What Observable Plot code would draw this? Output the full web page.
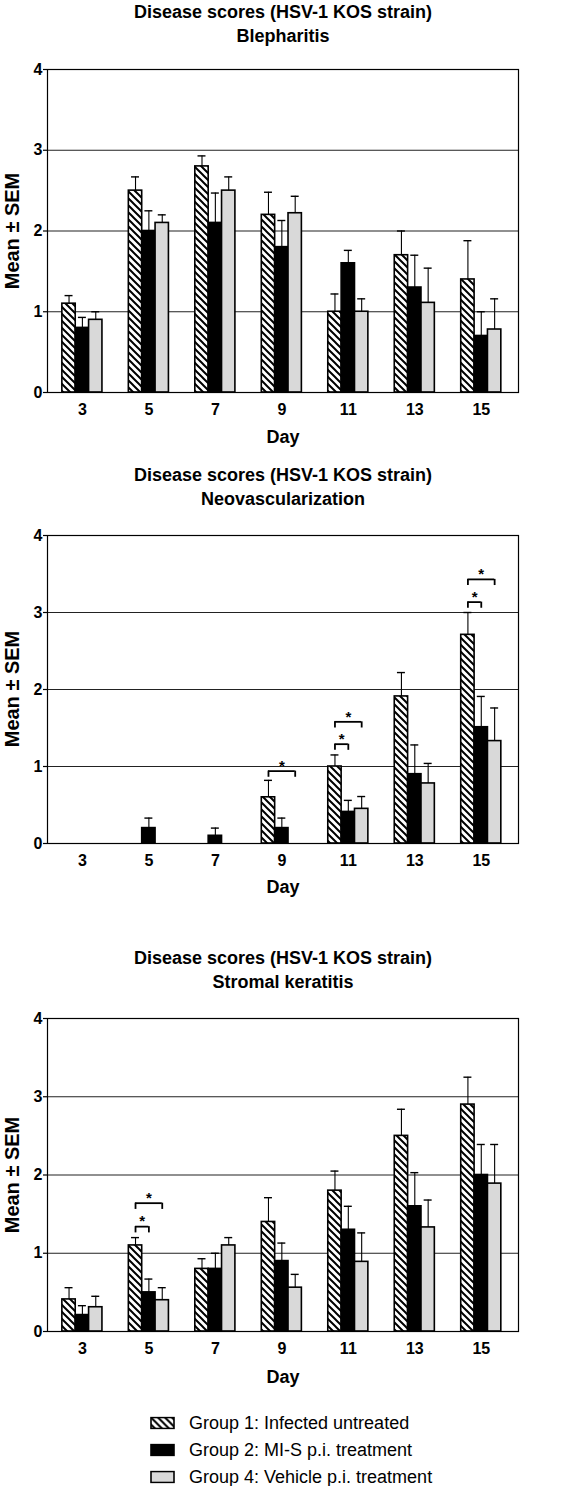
<!DOCTYPE html>
<html>
<head>
<meta charset="utf-8">
<script src="https://cdn.jsdelivr.net/npm/d3@7"></script>
<script src="https://cdn.jsdelivr.net/npm/@observablehq/plot@0.6"></script>
<style>
  html, body { margin: 0; padding: 0; background: #fff; }
  #root { position: relative; width: 566px; height: 1486px; font-family: "Liberation Sans", Arial, sans-serif; color: #000; }
  .title { position: absolute; left: 0; width: 566px; text-align: center; font-weight: bold; font-size: 18px; line-height: 24px; }
  .xlab { position: absolute; left: 283px; transform: translate(-50%, -50%); font-weight: bold; font-size: 18px; }
  .ylab { position: absolute; left: 12px; transform: translate(-50%, -50%) rotate(-90deg); font-weight: bold; font-size: 20px; white-space: nowrap; }
  .leg { position: absolute; left: 150px; height: 27px; display: flex; align-items: center; font-size: 18px; white-space: nowrap; transform: translateY(-50%); }
  .leg svg { margin-right: 14px; }
</style>
</head>
<body>
<svg width="0" height="0" style="position:absolute">
  <defs>
    <pattern id="hatch" patternUnits="userSpaceOnUse" width="7" height="7">
      <rect width="7" height="7" fill="#fff"></rect>
      <path d="M-1,-1 L8,8 M6,-1 L8,1 M-1,6 L1,8" stroke="#000" stroke-width="2"></path>
    </pattern>
  </defs>
</svg>
<div id="root"></div>
<script>
// ---- data ----
const days = [3, 5, 7, 9, 11, 13, 15];
const groups = ["Group 1: Infected untreated", "Group 2: MI-S p.i. treatment", "Group 4: Vehicle p.i. treatment"];
const groupFills = ["url(#hatch)", "#000000", "#d9d9d9"];
const titleLine1 = "Disease scores (HSV-1 KOS strain)";
const panelNames = ["Blepharitis", "Neovascularization", "Stromal keratitis"];
const yTicks = [0, 1, 2, 3, 4];

// Blepharitis
const blephG1 = [1.1, 2.5, 2.8, 2.2, 1.0, 1.7, 1.4];
const blephG1Sem = [0.1, 0.17, 0.13, 0.28, 0.22, 0.3, 0.48];
const blephG2 = [0.8, 2.0, 2.1, 1.8, 1.6, 1.3, 0.7];
const blephG2Sem = [0.13, 0.25, 0.37, 0.33, 0.16, 0.4, 0.3];
const blephG4 = [0.9, 2.1, 2.5, 2.22, 1.0, 1.11, 0.78];
const blephG4Sem = [0.1, 0.1, 0.17, 0.21, 0.16, 0.43, 0.38];

// Neovascularization
const neoG1 = [0, 0, 0, 0.6, 1.0, 1.91, 2.71];
const neoG1Sem = [0, 0, 0, 0.22, 0.15, 0.31, 0.29];
const neoG2 = [0, 0.2, 0.1, 0.2, 0.41, 0.9, 1.51];
const neoG2Sem = [0, 0.13, 0.1, 0.13, 0.15, 0.38, 0.4];
const neoG4 = [0, 0, 0, 0, 0.45, 0.78, 1.33];
const neoG4Sem = [0, 0, 0, 0, 0.16, 0.26, 0.43];
const neoBrackets = [
  {day: 9, from: 0, to: 2, level: 0.94},
  {day: 11, from: 0, to: 1, level: 1.29},
  {day: 11, from: 0, to: 2, level: 1.58},
  {day: 15, from: 0, to: 1, level: 3.135},
  {day: 15, from: 0, to: 2, level: 3.43}
];

// Stromal keratitis
const skG1 = [0.41, 1.1, 0.8, 1.4, 1.8, 2.5, 2.9];
const skG1Sem = [0.15, 0.1, 0.13, 0.31, 0.25, 0.34, 0.35];
const skG2 = [0.21, 0.5, 0.8, 0.9, 1.3, 1.6, 2.0];
const skG2Sem = [0.12, 0.17, 0.2, 0.23, 0.3, 0.43, 0.39];
const skG4 = [0.31, 0.4, 1.1, 0.56, 0.89, 1.33, 1.89];
const skG4Sem = [0.14, 0.16, 0.1, 0.17, 0.37, 0.35, 0.5];
const skBrackets = [
  {day: 5, from: 0, to: 1, level: 1.34},
  {day: 5, from: 0, to: 2, level: 1.64}
];

// ---- layout ----
const root = document.getElementById("root");
const off = [-0.402, 0, 0.402];
const half = 0.201;
const cap = 0.12;
const leg = 0.08;

function panel({svgTop, marginTop, plotBottom, means, sems, brackets, titleTop, name, dayY}) {
  const rows = days.flatMap((day, i) => means.map((m, k) => ({day, k, mean: m[i], sem: sems[k][i]})));
  const bars = rows.filter(d => d.mean > 0);
  const errs = rows.filter(d => d.sem > 0);
  const legs = brackets.flatMap(b => [b.from, b.to].map(g => ({x: b.day + off[g], level: b.level})));
  const height = plotBottom - svgTop + 30;
  const svg = Plot.plot({
    width: 566, height,
    marginTop, marginBottom: 30, marginLeft: 47, marginRight: 48,
    x: {domain: [1.95, 16.12]},
    y: {domain: [0, 4]},
    style: {fontFamily: "Liberation Sans, Arial, sans-serif", fontSize: "16px", fontWeight: "bold", color: "#000", background: "transparent", overflow: "visible"},
    marks: [
      Plot.ruleY([1, 2, 3, 4], {stroke: "#222", strokeWidth: 1.1}),
      ...[0, 1, 2].map(k => Plot.rect(bars.filter(d => d.k === k), {
        x1: d => d.day + off[d.k] - half, x2: d => d.day + off[d.k] + half,
        y1: d => 0, y2: "mean",
        fill: groupFills[k], stroke: "#000", strokeWidth: 1.6
      })),
      Plot.ruleX(errs, {x: d => d.day + off[d.k], y1: "mean", y2: d => d.mean + d.sem, stroke: "#000", strokeWidth: 1.1}),
      Plot.ruleY(errs, {y: d => d.mean + d.sem, x1: d => d.day + off[d.k] - cap, x2: d => d.day + off[d.k] + cap, stroke: "#000", strokeWidth: 1.4}),
      Plot.ruleY(brackets, {y: "level", x1: d => d.day + off[d.from], x2: d => d.day + off[d.to], stroke: "#000", strokeWidth: 1.8}),
      Plot.ruleX(legs, {x: "x", y1: "level", y2: d => d.level - leg, stroke: "#000", strokeWidth: 1.8}),
      Plot.text(brackets, {x: d => d.day + (off[d.from] + off[d.to]) / 2, y: "level", text: d => "*", dy: -5, fontSize: 15, fontWeight: "bold"}),
      Plot.frame({stroke: "#000", strokeWidth: 1.2}),
      Plot.axisY({ticks: yTicks, tickSize: 4, tickPadding: 1, tickFormat: d => d, label: null, strokeWidth: 1.2}),
      Plot.axisX({ticks: days, tickSize: 0, tickPadding: 11, tickFormat: d => d, label: null})
    ]
  });
  svg.style.position = "absolute";
  svg.style.left = "0px";
  svg.style.top = svgTop + "px";
  root.appendChild(svg);

  const t = document.createElement("div");
  t.className = "title";
  t.style.top = titleTop + "px";
  t.innerHTML = titleLine1 + "<br>" + name;
  root.appendChild(t);

  const yl = document.createElement("div");
  yl.className = "ylab";
  yl.style.top = ((svgTop + marginTop + plotBottom) / 2) + "px";
  yl.textContent = "Mean \u00b1 SEM";
  root.appendChild(yl);

  const xl = document.createElement("div");
  xl.className = "xlab";
  xl.style.top = dayY + "px";
  xl.textContent = "Day";
  root.appendChild(xl);
}

panel({svgTop: 0, marginTop: 69, plotBottom: 392, means: [blephG1, blephG2, blephG4], sems: [blephG1Sem, blephG2Sem, blephG4Sem], brackets: [], titleTop: 0, name: panelNames[0], dayY: 437});
panel({svgTop: 450, marginTop: 85, plotBottom: 843, means: [neoG1, neoG2, neoG4], sems: [neoG1Sem, neoG2Sem, neoG4Sem], brackets: neoBrackets, titleTop: 463, name: panelNames[1], dayY: 887});
panel({svgTop: 900, marginTop: 118, plotBottom: 1331, means: [skG1, skG2, skG4], sems: [skG1Sem, skG2Sem, skG4Sem], brackets: skBrackets, titleTop: 946, name: panelNames[2], dayY: 1377});

// legend
const legendY = [1423, 1450, 1477];
groups.forEach((g, k) => {
  const row = document.createElement("div");
  row.className = "leg";
  row.style.top = legendY[k] + "px";
  row.innerHTML = `<svg width="25" height="13"><rect x="1" y="1" width="23" height="11" fill="${groupFills[k]}" stroke="#000" stroke-width="1.6"></rect></svg><span>${g}</span>`;
  root.appendChild(row);
});
</script>
</body>
</html>
